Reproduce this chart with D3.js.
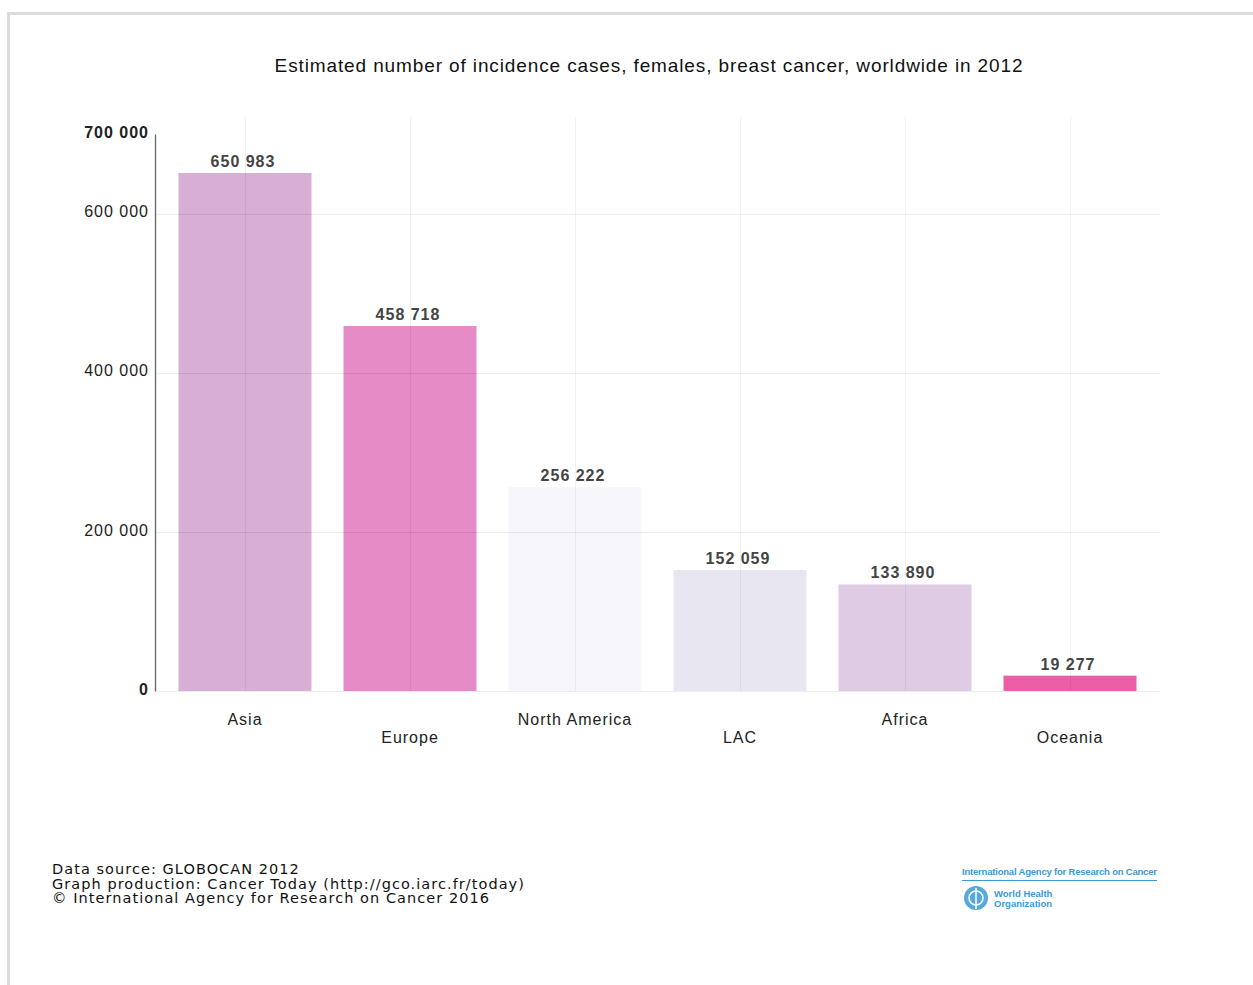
<!DOCTYPE html>
<html>
<head>
<meta charset="utf-8">
<script src="https://cdn.jsdelivr.net/npm/d3@7"></script>
<style>
  body { margin: 0; background: #fff; }
  svg { display: block; }
</style>
</head>
<body>
<div id="chart"></div>
<script>
// data
const regions = ["Asia", "Europe", "North America", "LAC", "Africa", "Oceania"];
const cases = [650983, 458718, 256222, 152059, 133890, 19277];
const barColors = ["#d7aed4", "#e68bc5", "#f7f6fb", "#e8e6f1", "#dfcbe4", "#ec5fa6"];
const yTicks = [0, 200000, 400000, 600000, 700000];
const footerLines = [
  "Data source: GLOBOCAN 2012",
  "Graph production: Cancer Today (http://gco.iarc.fr/today)",
  "\u00a9 International Agency for Research on Cancer 2016"
];

document.addEventListener("DOMContentLoaded", () => {
  const W = 1253, H = 985;
  const svg = d3.select("#chart").append("svg")
    .attr("width", W)
    .attr("height", H);

  // frame (top + left edge only visible)
  svg.append("rect")
    .attr("x", 8.5).attr("y", 13.5)
    .attr("width", W + 10).attr("height", H + 10)
    .attr("fill", "#fff")
    .attr("stroke", "#dcdcdc")
    .attr("stroke-width", 3);

  const fmt = v => d3.format(",")(v).replace(/,/g, " ");

  const x = d3.scaleBand()
    .domain(regions)
    .range([162.5, 1152.5])
    .paddingInner(0.194)
    .paddingOuter(0.097);

  const y = d3.scaleLinear()
    .domain([0, 700000])
    .range([691, 134]);

  // title
  svg.append("text")
    .attr("x", 649).attr("y", 72)
    .attr("text-anchor", "middle")
    .style("font-family", "'Liberation Sans', Arial, sans-serif")
    .style("font-size", "19px")
    .style("letter-spacing", "0.88px")
    .attr("fill", "#111")
    .text("Estimated number of incidence cases, females, breast cancer, worldwide in 2012");

  // bars
  svg.append("g").selectAll("rect")
    .data(regions)
    .enter()
    .append("rect")
    .attr("x", d => x(d))
    .attr("y", (d, i) => y(cases[i]))
    .attr("width", x.bandwidth())
    .attr("height", (d, i) => y(0) - y(cases[i]))
    .attr("fill", (d, i) => barColors[i]);

  // grid lines (drawn over the bars, faint)
  const grid = svg.append("g").attr("stroke", "#000").attr("stroke-opacity", 0.07);
  grid.selectAll("line.h")
    .data([0, 200000, 400000, 600000])
    .enter().append("line")
    .attr("class", "h")
    .attr("x1", 155).attr("x2", 1160)
    .attr("y1", d => Math.round(y(d)) + 0.5)
    .attr("y2", d => Math.round(y(d)) + 0.5);
  grid.selectAll("line.v")
    .data(regions)
    .enter().append("line")
    .attr("class", "v")
    .attr("x1", d => Math.round(x(d) + x.bandwidth() / 2) + 0.5)
    .attr("x2", d => Math.round(x(d) + x.bandwidth() / 2) + 0.5)
    .attr("y1", 117).attr("y2", y(0))
    .attr("stroke-opacity", 0.055);

  // y axis
  const yAxis = svg.append("g")
    .attr("transform", "translate(155,0)")
    .call(d3.axisLeft(y).tickValues(yTicks).tickSize(0).tickPadding(6).tickFormat(fmt));
  yAxis.select(".domain").attr("stroke", "#666").attr("stroke-width", 1.3);
  yAxis.selectAll("text")
    .style("font-family", "'Liberation Sans', Arial, sans-serif")
    .style("font-size", "16px")
    .style("letter-spacing", "1px")
    .attr("fill", "#222")
    .style("font-weight", d => (d === 0 || d === 700000) ? "bold" : "normal")
    .attr("dy", "0.2em");

  // value labels
  svg.append("g").selectAll("text")
    .data(regions)
    .enter().append("text")
    .attr("x", d => x(d) + x.bandwidth() / 2 - 2)
    .attr("y", (d, i) => y(cases[i]) - 6)
    .attr("text-anchor", "middle")
    .style("font-family", "'Liberation Sans', Arial, sans-serif")
    .style("font-size", "16px")
    .style("font-weight", "bold")
    .style("letter-spacing", "1px")
    .attr("fill", "#444")
    .text((d, i) => fmt(cases[i]));

  // category labels, staggered
  svg.append("g").selectAll("text")
    .data(regions)
    .enter().append("text")
    .attr("x", d => x(d) + x.bandwidth() / 2)
    .attr("y", (d, i) => i % 2 === 0 ? 725 : 743)
    .attr("text-anchor", "middle")
    .style("font-family", "'Liberation Sans', Arial, sans-serif")
    .style("font-size", "16px")
    .style("letter-spacing", "1px")
    .attr("fill", "#222")
    .text(d => d);

  // footer
  svg.append("g").selectAll("text")
    .data(footerLines)
    .enter().append("text")
    .attr("x", 52)
    .attr("y", (d, i) => 874 + i * 14.6)
    .style("font-family", "'DejaVu Sans', sans-serif")
    .style("font-size", "14.5px")
    .style("letter-spacing", "1.05px")
    .attr("fill", "#111")
    .text(d => d);

  // IARC / WHO logo
  const logo = svg.append("g").attr("fill", "#3b9ad8");
  logo.append("text")
    .attr("x", 962).attr("y", 875)
    .style("font-family", "'Liberation Sans', Arial, sans-serif")
    .style("font-size", "9.5px")
    .style("font-weight", "bold")
    .attr("textLength", 195)
    .text("International Agency for Research on Cancer");
  logo.append("line")
    .attr("x1", 962).attr("x2", 1157)
    .attr("y1", 880.5).attr("y2", 880.5)
    .attr("stroke", "#3b9ad8").attr("stroke-width", 1);
  logo.append("circle")
    .attr("cx", 976).attr("cy", 898).attr("r", 12)
    .attr("fill", "#3b9ad8").attr("fill-opacity", 0.85);
  logo.append("circle")
    .attr("cx", 976).attr("cy", 898).attr("r", 7)
    .attr("fill", "none").attr("stroke", "#fff").attr("stroke-width", 1.5);
  logo.append("line")
    .attr("x1", 976).attr("x2", 976).attr("y1", 888).attr("y2", 909)
    .attr("stroke", "#fff").attr("stroke-width", 1.5);
  logo.append("text")
    .attr("x", 994).attr("y", 897)
    .style("font-family", "'Liberation Sans', Arial, sans-serif")
    .style("font-size", "9.5px")
    .style("font-weight", "bold")
    .text("World Health");
  logo.append("text")
    .attr("x", 994).attr("y", 907)
    .style("font-family", "'Liberation Sans', Arial, sans-serif")
    .style("font-size", "9.5px")
    .style("font-weight", "bold")
    .text("Organization");
});
</script>
</body>
</html>
